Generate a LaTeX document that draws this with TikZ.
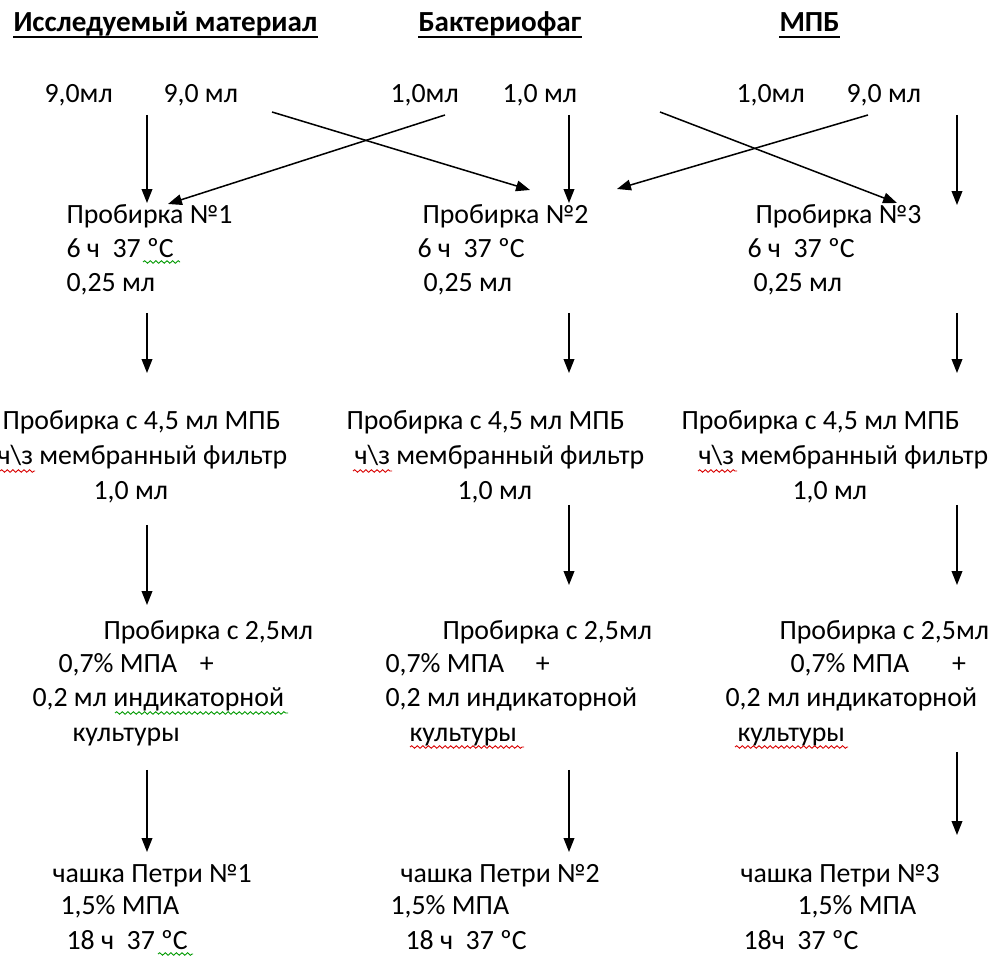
\documentclass[tikz,border=0pt]{standalone}
\usepackage{fontspec}
\setmainfont{Carlito}
\usetikzlibrary{arrows.meta, decorations.pathmorphing}
\tikzset{
    txt/.style={anchor=base west, inner sep=0pt, font=\fontsize{11}{13}\selectfont},
    head/.style={txt, font=\fontsize{11.5}{13}\selectfont\bfseries},
    arr/.style={line width=0.6pt, -{Triangle[length=5.5pt, width=4.2pt]}},
    uline/.style={line width=0.8pt},
    squig/.style={line width=0.35pt, decorate, decoration={snake, amplitude=0.5pt, segment length=2.2pt}},
    redsq/.style={squig, red!85!black},
    greensq/.style={squig, green!60!black}
}

\begin{document}
\begin{tikzpicture}[x=0.395pt, y=-0.395pt]
        \useasboundingbox (0,0) rectangle (997,956);
        % headings
        \node [head] (hmat) at (13,32) {Исследуемый материал};
        \node [head] (hphg) at (418,32) {Бактериофаг};
        \node [head] (hmpb) at (779,32) {МПБ};
        \foreach \h in {hmat, hphg, hmpb}
          \draw [uline] ([yshift=-2pt]\h.base west) -- ([yshift=-2pt]\h.base east);
        % volumes
        \node [txt] (v1a) at (44,103) {9,0мл};
        \node [txt] (v1b) at (163,103) {9,0 мл};
        \node [txt] (v2a) at (390,103) {1,0мл};
        \node [txt] (v2b) at (502,103) {1,0 мл};
        \node [txt] (v3a) at (736,103) {1,0мл};
        \node [txt] (v3b) at (846,103) {9,0 мл};
        % tubes
        \begin{scope}
          \node [txt] (t1a) at (66,224) {Пробирка №1};
          \node [txt] (t1b) at (66,258) {6 ч\ \ 37 ºС};
          \node [txt] (t1c) at (66,292) {0,25 мл};
          \node [txt] (t2a) at (422,224) {Пробирка №2};
          \node [txt] (t2b) at (417,258) {6 ч\ \ 37 ºС};
          \node [txt] (t2c) at (423,292) {0,25 мл};
          \node [txt] (t3a) at (755,224) {Пробирка №3};
          \node [txt] (t3b) at (747,258) {6 ч\ \ 37 ºС};
          \node [txt] (t3c) at (753,292) {0,25 мл};
        \end{scope}
        % filtration
        \begin{scope}
          \node [txt] (f1a) at (2,430) {Пробирка с 4,5 мл МПБ};
          \node [txt] (f1b) at (-3,465) {ч\textbackslash з мембранный фильтр};
          \node [txt] (f1c) at (93,500) {1,0 мл};
          \node [txt] (f2a) at (346,430) {Пробирка с 4,5 мл МПБ};
          \node [txt] (f2b) at (354,465) {ч\textbackslash з мембранный фильтр};
          \node [txt] (f2c) at (457,500) {1,0 мл};
          \node [txt] (f3a) at (681,430) {Пробирка с 4,5 мл МПБ};
          \node [txt] (f3b) at (698,465) {ч\textbackslash з мембранный фильтр};
          \node [txt] (f3c) at (792,500) {1,0 мл};
        \end{scope}
        % agar with indicator
        \begin{scope}
          \node [txt] (a1a) at (103,640) {Пробирка с 2,5мл};
          \node [txt] (a1b) at (58,673) {0,7\% МПА\hspace{9pt}+};
          \node [txt] (a1c) at (32,707) {0,2 мл индикаторной};
          \node [txt] (a1d) at (72,742) {культуры};
          \node [txt] (a2a) at (442,640) {Пробирка с 2,5мл};
          \node [txt] (a2b) at (385,673) {0,7\% МПА\hspace{12.5pt}+};
          \node [txt] (a2c) at (385,707) {0,2 мл индикаторной};
          \node [txt] (a2d) at (409,742) {культуры};
          \node [txt] (a3a) at (779,640) {Пробирка с 2,5мл};
          \node [txt] (a3b) at (790,673) {0,7\% МПА\hspace{17pt}+};
          \node [txt] (a3c) at (725,707) {0,2 мл индикаторной};
          \node [txt] (a3d) at (737,742) {культуры};
        \end{scope}
        % petri dishes
        \begin{scope}
          \node [txt] (p1a) at (52,882) {чашка Петри №1};
          \node [txt] (p1b) at (60,915) {1,5\% МПА};
          \node [txt] (p1c) at (66,950) {18 ч\ \ 37 ºС};
          \node [txt] (p2a) at (400,882) {чашка Петри №2};
          \node [txt] (p2b) at (390,915) {1,5\% МПА};
          \node [txt] (p2c) at (405,950) {18 ч\ \ 37 ºС};
          \node [txt] (p3a) at (740,882) {чашка Петри №3};
          \node [txt] (p3b) at (797,915) {1,5\% МПА};
          \node [txt] (p3c) at (743,950) {18ч\ \ 37 ºС};
        \end{scope}
        % arrow ends
        \coordinate (s11) at (147,115);  \coordinate (e11) at (147,203);
        \coordinate (s12) at (272,112);  \coordinate (e12) at (530,190);
        \coordinate (s21) at (445,115);  \coordinate (e21) at (168,204);
        \coordinate (s22) at (569,115);  \coordinate (e22) at (569,203);
        \coordinate (s23) at (660,112);  \coordinate (e23) at (897,203);
        \coordinate (s32) at (868,115);  \coordinate (e32) at (617,189);
        \coordinate (s33) at (957,115);  \coordinate (e33) at (957,205);
        \foreach \a/\b in {s11/e11, s12/e12, s21/e21, s22/e22, s23/e23, s32/e32, s33/e33}
          \draw [arr] (\a) -- (\b);
        \foreach \x/\ya/\yb/\yc/\yd/\ye/\yf in {147/313/373/525/605/770/852, 569/313/373/505/585/770/852, 957/313/373/505/585/752/835} {
          \draw [arr] (\x,\ya) -- (\x,\yb);
          \draw [arr] (\x,\yc) -- (\x,\yd);
          \draw [arr] (\x,\ye) -- (\x,\yf);
        }
        % spelling marks
        \draw [greensq] (143,262) -- (180,262);
        \draw [greensq] (158,954) -- (193,954);
        \draw [greensq] (115,713) -- (288,713);
        \draw [redsq] (0,471) -- (35,471);
        \draw [redsq] (353,471) -- (392,471);
        \draw [redsq] (698,471) -- (737,471);
        \draw [redsq] (410,747) -- (524,747);
        \draw [redsq] (735,747) -- (848,747);
      \end{tikzpicture}
\end{document}
